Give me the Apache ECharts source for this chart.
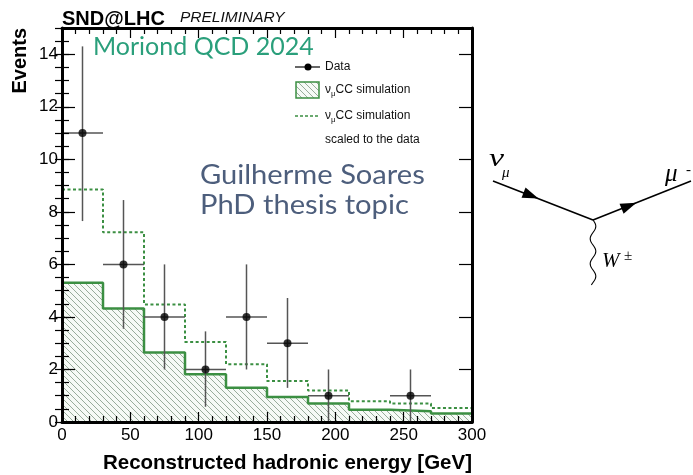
<!DOCTYPE html>
<html>
<head>
<meta charset="utf-8">
<script src="https://cdn.jsdelivr.net/npm/echarts@6/dist/echarts.min.js"></script>
<style>
  html, body { margin: 0; padding: 0; background: #fff; }
  #chart { width: 693px; height: 475px; }
</style>
</head>
<body>
<div id="chart"></div>
<script>
// ---------- data ----------
const binEdges = [0, 30, 60, 90, 120, 150, 180, 210, 240, 270, 300];
const simValues = [5.3, 4.32, 2.65, 1.82, 1.3, 0.95, 0.7, 0.47, 0.41, 0.32];
const scaledValues = [8.85, 7.22, 4.47, 3.05, 2.2, 1.56, 1.2, 0.79, 0.7, 0.53];
const dataX = [15, 45, 75, 105, 135, 165, 195, 255];
const dataY = [11, 6, 4, 2, 4, 3, 1, 1];
const dataLow = [7.65, 3.55, 2.0, 0.58, 2.0, 1.3, 0, 0];
const dataHigh = [14.3, 8.45, 6.0, 3.45, 6.0, 4.72, 2.0, 2.0];
const xHalfWidth = 15;
const xTicks = [0, 50, 100, 150, 200, 250, 300];
const yTicks = [0, 2, 4, 6, 8, 10, 12, 14];

// ---------- styles ----------
const GREEN = '#3b8f42';
const HATCH = '#98ac9b';
const ERR = '#555555';

function hatchCanvas(color) {
  const s = 6;
  const c = document.createElement('canvas');
  c.width = s; c.height = s;
  const g = c.getContext('2d');
  g.fillStyle = '#f6faf6';
  g.fillRect(0, 0, s, s);
  g.strokeStyle = color; g.lineWidth = 1;
  g.beginPath();
  g.moveTo(-1, -1); g.lineTo(s + 1, s + 1);
  g.moveTo(-1, s - 1); g.lineTo(1, s + 1);
  g.moveTo(s - 1, -1); g.lineTo(s + 1, 1);
  g.stroke();
  return c;
}
const hatchPattern = { image: hatchCanvas(HATCH), repeat: 'repeat' };

function stepData(values) {
  const out = values.map((v, i) => [binEdges[i], v]);
  out.push([binEdges[binEdges.length - 1], values[values.length - 1]]);
  return out;
}
const errRows = dataX.map((x, i) => [x, dataY[i], dataLow[i], dataHigh[i]]);
const pointRows = dataX.map((x, i) => [x, dataY[i]]);

// ---------- decoration helpers (Feynman diagram) ----------
function arrowHead(cx, cy, dx, dy, len, half) {
  const n = Math.hypot(dx, dy); const ux = dx / n, uy = dy / n;
  const tip = [cx + ux * len / 2, cy + uy * len / 2];
  const base = [cx - ux * len / 2, cy - uy * len / 2];
  return [tip, [base[0] - uy * half, base[1] + ux * half], [base[0] + uy * half, base[1] - ux * half]];
}
function wavy(x, y0, y1, amp, wl) {
  const pts = [];
  for (let y = y0; y <= y1; y += 1) pts.push([x + amp * Math.sin((y - y0) / wl * 2 * Math.PI), y]);
  return pts;
}

const SANS = 'Liberation Sans';

const frameAxisLine = { show: true, onZero: false, lineStyle: { color: '#000', width: 3 } };
const tickStyle = { color: '#000', width: 1.2 };

const option = {
  animation: false,
  backgroundColor: '#fff',
  textStyle: { fontFamily: SANS },
  grid: [
    { left: 62, right: 221, top: 28, bottom: 53, outerBoundsMode: 'none' },
    { left: 62, right: 221, top: 28, bottom: 53, outerBoundsMode: 'none' }
  ],
  xAxis: [
    { type: 'value', gridIndex: 0, position: 'bottom', min: 0, max: 300, interval: 50, z: 10,
      axisLine: frameAxisLine,
      axisTick: { show: true, inside: true, length: 10, lineStyle: tickStyle, customValues: xTicks },
      minorTick: { show: true, splitNumber: 5, length: 6, lineStyle: tickStyle },
      axisLabel: { fontSize: 17, color: '#000', margin: 5, fontFamily: SANS, customValues: xTicks },
      splitLine: { show: false } },
    { type: 'value', gridIndex: 0, position: 'top', min: 0, max: 300, interval: 50, z: 10,
      axisLine: frameAxisLine,
      axisTick: { show: true, inside: true, length: 10, lineStyle: tickStyle },
      minorTick: { show: true, splitNumber: 5, length: 6, lineStyle: tickStyle },
      axisLabel: { show: false }, splitLine: { show: false } },
    { type: 'value', gridIndex: 1, position: 'bottom', min: 0, max: 300, show: false },
    { type: 'value', gridIndex: 1, position: 'top', min: 0, max: 300, show: false }
  ],
  yAxis: [
    { type: 'value', gridIndex: 0, position: 'left', min: 0, max: 15, interval: 2, z: 10,
      axisLine: frameAxisLine,
      axisTick: { show: true, inside: true, length: 13, lineStyle: tickStyle },
      axisLabel: { fontSize: 17, color: '#000', margin: 4, fontFamily: SANS, showMaxLabel: false,
        formatter: v => (yTicks.indexOf(v) >= 0 ? String(v) : '') },
      splitLine: { show: false } },
    { type: 'value', gridIndex: 0, position: 'right', min: 0, max: 15, interval: 2, z: 10,
      axisLine: frameAxisLine,
      axisTick: { show: true, inside: true, length: 13, lineStyle: tickStyle },
      axisLabel: { show: false }, splitLine: { show: false } },
    { type: 'value', gridIndex: 1, position: 'left', min: 0, max: 15, interval: 0.5, z: 10,
      axisLine: { show: false },
      axisTick: { show: true, inside: true, length: 7, lineStyle: tickStyle },
      axisLabel: { show: false }, splitLine: { show: false } },
    { type: 'value', gridIndex: 1, position: 'right', min: 0, max: 15, interval: 0.5, z: 10,
      axisLine: { show: false },
      axisTick: { show: true, inside: true, length: 7, lineStyle: tickStyle },
      axisLabel: { show: false }, splitLine: { show: false } }
  ],
  series: [
    { name: 'sim', type: 'line', xAxisIndex: 0, yAxisIndex: 0, step: 'end', symbol: 'none',
      data: stepData(simValues), z: 2,
      lineStyle: { color: GREEN, width: 2.5 },
      areaStyle: { color: hatchPattern, opacity: 1 } },
    { name: 'scaled', type: 'line', xAxisIndex: 0, yAxisIndex: 0, step: 'end', symbol: 'none',
      data: stepData(scaledValues), z: 3,
      lineStyle: { color: GREEN, width: 2, type: [3, 2.5] } },
    { name: 'err', type: 'custom', xAxisIndex: 0, yAxisIndex: 0, z: 4,
      data: errRows, encode: { x: 0, y: [1, 2, 3] },
      renderItem: (params, api) => {
        const x = api.value(0), y = api.value(1), lo = api.value(2), hi = api.value(3);
        const a = api.coord([x, lo]), b = api.coord([x, hi]);
        const l = api.coord([x - xHalfWidth, y]), r = api.coord([x + xHalfWidth, y]);
        const st = { stroke: ERR, lineWidth: 1.5 };
        return { type: 'group', children: [
          { type: 'line', shape: { x1: a[0], y1: a[1], x2: b[0], y2: b[1] }, style: st },
          { type: 'line', shape: { x1: l[0], y1: l[1], x2: r[0], y2: r[1] }, style: st }
        ] };
      } },
    { name: 'Data', type: 'scatter', xAxisIndex: 0, yAxisIndex: 0, z: 5,
      data: pointRows, symbol: 'circle', symbolSize: 8,
      itemStyle: { color: '#000' } }
  ],
  graphic: [
    // header
    { type: 'text', left: 62, top: 9, style: { text: 'SND@LHC', font: 'bold 20px "Liberation Sans"', fill: '#000' } },
    { type: 'text', left: 180, top: 10, style: { text: 'PRELIMINARY', font: 'italic 15.5px "Liberation Sans"', fill: '#111' } },
    // axis titles
    { type: 'text', x: 20, y: 28, rotation: Math.PI / 2,
      style: { text: 'Events', font: 'bold 20px "Liberation Sans"', fill: '#000', align: 'right', verticalAlign: 'middle' } },
    { type: 'text', x: 472, y: 463,
      style: { text: 'Reconstructed hadronic energy [GeV]', font: 'bold 20.5px "Liberation Sans"', fill: '#000', align: 'right', verticalAlign: 'middle' } },
    // overlays
    { type: 'text', x: 93, y: 47, z: 20,
      style: { text: 'Moriond QCD 2024', font: '25px Lato', fill: '#2a9f7b', align: 'left', verticalAlign: 'middle' } },
    { type: 'text', x: 200, y: 176, z: 20, scaleX: 1.12,
      style: { text: 'Guilherme Soares', font: '26px Lato', fill: '#4d5e7c', align: 'left', verticalAlign: 'middle' } },
    { type: 'text', x: 200, y: 206, z: 20, scaleX: 1.12,
      style: { text: 'PhD thesis topic', font: '26px Lato', fill: '#4d5e7c', align: 'left', verticalAlign: 'middle' } },
    // legend
    { type: 'line', z: 20, shape: { x1: 295, y1: 67, x2: 320, y2: 67 }, style: { stroke: '#000', lineWidth: 1.2 } },
    { type: 'circle', z: 21, shape: { cx: 308, cy: 67, r: 3.5 }, style: { fill: '#000' } },
    { type: 'text', z: 20, x: 325, y: 67, style: { text: 'Data', font: '12px "Liberation Sans"', fill: '#111', verticalAlign: 'middle' } },
    { type: 'rect', z: 20, shape: { x: 296, y: 82, width: 23, height: 16 }, style: { fill: hatchPattern, stroke: GREEN, lineWidth: 1.5 } },
    { type: 'text', z: 20, x: 325, y: 90, style: {
      text: '{n|ν}{s|μ}{n|CC simulation}', verticalAlign: 'middle', fill: '#111',
      rich: { n: { font: '12px "Liberation Sans"', fill: '#111' }, s: { font: '8px "Liberation Sans"', fill: '#111', padding: [7, 0, 0, 0] } } } },
    { type: 'line', z: 20, shape: { x1: 295, y1: 116, x2: 320, y2: 116 }, style: { stroke: GREEN, lineWidth: 1.5, lineDash: [3, 2] } },
    { type: 'text', z: 20, x: 325, y: 116, style: {
      text: '{n|ν}{s|μ}{n|CC simulation}', verticalAlign: 'middle', fill: '#111',
      rich: { n: { font: '12px "Liberation Sans"', fill: '#111' }, s: { font: '8px "Liberation Sans"', fill: '#111', padding: [7, 0, 0, 0] } } } },
    { type: 'text', z: 20, x: 325, y: 140, style: { text: 'scaled to the data', font: '12px "Liberation Sans"', fill: '#111', verticalAlign: 'middle' } },
    // Feynman diagram
    { type: 'line', shape: { x1: 493, y1: 181, x2: 593, y2: 220 }, style: { stroke: '#000', lineWidth: 1.6 } },
    { type: 'line', shape: { x1: 593, y1: 220, x2: 691, y2: 181 }, style: { stroke: '#000', lineWidth: 1.6 } },
    { type: 'polygon', shape: { points: arrowHead(531, 195.5, 100, 39, 16, 5.5) }, style: { fill: '#000' } },
    { type: 'polygon', shape: { points: arrowHead(629, 205.8, 98, -39, 16, 5.5) }, style: { fill: '#000' } },
    { type: 'polyline', shape: { points: wavy(593, 220, 285, 2.8, 25) }, style: { stroke: '#000', lineWidth: 1.1, fill: null } },
    { type: 'text', x: 489, y: 159, scaleX: 1.3, style: { text: 'ν', font: 'italic 26px "Liberation Serif"', fill: '#000', verticalAlign: 'middle' } },
    { type: 'text', x: 502, y: 173, style: { text: 'μ', font: 'italic 15px "Liberation Serif"', fill: '#000', verticalAlign: 'middle' } },
    { type: 'text', x: 665, y: 174, style: { text: 'μ', font: 'italic 25px "Liberation Serif"', fill: '#000', verticalAlign: 'middle' } },
    { type: 'text', x: 686, y: 170, style: { text: '-', font: '15px "Liberation Serif"', fill: '#000', verticalAlign: 'middle' } },
    { type: 'text', x: 602, y: 261, style: { text: 'W', font: 'italic 21px "Liberation Serif"', fill: '#000', verticalAlign: 'middle' } },
    { type: 'text', x: 624, y: 256, style: { text: '±', font: '15px "Liberation Serif"', fill: '#000', verticalAlign: 'middle' } }
  ]
};

const chart = echarts.init(document.getElementById('chart'), null, { renderer: 'canvas' });
chart.setOption(option);
</script>
</body>
</html>
